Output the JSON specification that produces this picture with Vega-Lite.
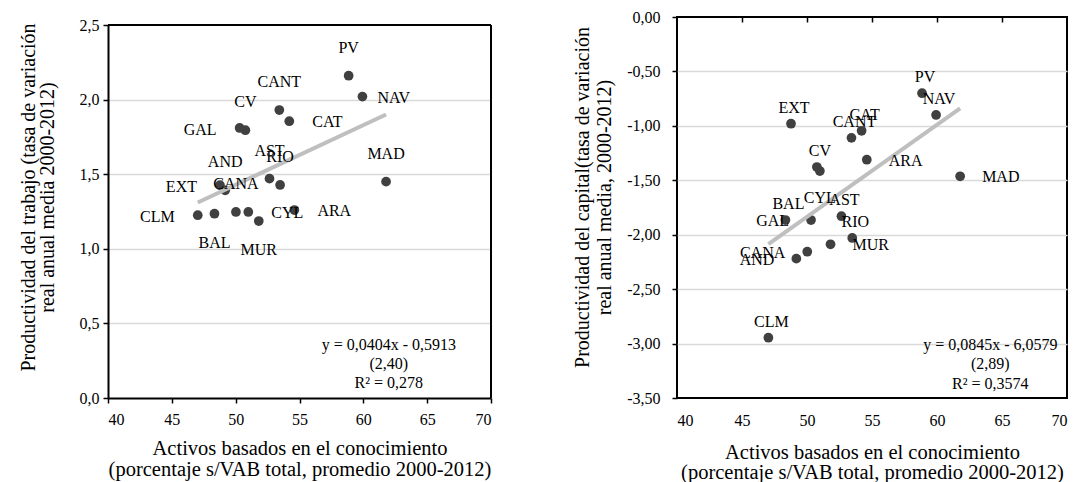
{
  "$schema": "https://vega.github.io/schema/vega-lite/v6.json",
  "background": "white",
  "padding": {"left": 18, "top": 8, "right": 5, "bottom": 5},
  "spacing": 79,
  "config": {
    "font": "Liberation Serif",
    "axis": {
      "labelFont": "Liberation Serif", "titleFont": "Liberation Serif",
      "labelFontSize": 16, "titleFontSize": 20, "titleFontWeight": "normal",
      "labelColor": "#000000", "titleColor": "#000000",
      "domainColor": "#000000", "domainWidth": 2,
      "tickColor": "#000000", "tickWidth": 1.5, "tickSize": 5,
      "gridColor": "#d9d9d9", "gridWidth": 1.3
    },
    "text": {"font": "Liberation Serif", "fontSize": 16, "fill": "#000000"}
  },
  "datasets": {
    "regiones": [
      {"region": "PV", "activos": 58.85, "trabajo": 2.16, "capital": -0.70},
      {"region": "NAV", "activos": 59.93, "trabajo": 2.02, "capital": -0.90},
      {"region": "CANT", "activos": 53.42, "trabajo": 1.93, "capital": -1.11},
      {"region": "CAT", "activos": 54.2, "trabajo": 1.855, "capital": -1.045},
      {"region": "GAL", "activos": 50.31, "trabajo": 1.81, "capital": -1.865},
      {"region": "CV", "activos": 50.76, "trabajo": 1.795, "capital": -1.378},
      {"region": "AST", "activos": 52.65, "trabajo": 1.47, "capital": -1.83},
      {"region": "RIO", "activos": 53.48, "trabajo": 1.428, "capital": -2.03},
      {"region": "MAD", "activos": 61.78, "trabajo": 1.45, "capital": -1.463},
      {"region": "EXT", "activos": 48.77, "trabajo": 1.426, "capital": -0.98},
      {"region": "AND", "activos": 49.18, "trabajo": 1.392, "capital": -2.22},
      {"region": "CLM", "activos": 47.03, "trabajo": 1.225, "capital": -2.946},
      {"region": "BAL", "activos": 48.34, "trabajo": 1.235, "capital": -1.865},
      {"region": "CANA", "activos": 50.02, "trabajo": 1.247, "capital": -2.156},
      {"region": "CYL", "activos": 50.99, "trabajo": 1.247, "capital": -1.415},
      {"region": "MUR", "activos": 51.81, "trabajo": 1.186, "capital": -2.088},
      {"region": "ARA", "activos": 54.6, "trabajo": 1.26, "capital": -1.311}
    ]
  },
  "hconcat": [
    {
      "width": 383,
      "height": 381,
      "view": {"stroke": null},
      "data": {"name": "regiones"},
      "layer": [
        {
          "mark": {"type": "circle", "size": 95, "color": "#404040", "opacity": 1},
          "encoding": {
            "x": {
              "field": "activos", "type": "quantitative",
              "scale": {"domain": [40, 70], "nice": false, "zero": false},
              "axis": {
                "title": ["Activos basados en el conocimiento", "(porcentaje s/VAB total, promedio 2000-2012)"],
                "values": [40, 45, 50, 55, 60, 65, 70],
                "grid": false, "domain": true, "ticks": true,
                "labelPadding": 8, "titlePadding": 11, "titleLineHeight": 21, "titleFontSize": 20.5
              }
            },
            "y": {
              "field": "trabajo", "type": "quantitative",
              "scale": {"domain": [0, 2.5], "range": [381, 8], "nice": false, "zero": false},
              "axis": {
                "title": ["Productividad del trabajo (tasa de variación", "real anual media 2000-2012)"],
                "values": [0, 0.5, 1, 1.5, 2, 2.5],
                "labelExpr": "replace(format(datum.value,'.1f'),'.',',')",
                "grid": true, "domain": true, "ticks": true,
                "gridColor": {"condition": {"test": "datum.value <= 0 || datum.value >= 2.5", "value": "transparent"}, "value": "#d9d9d9"},
                "labelPadding": 4, "titlePadding": 22, "titleY": 180, "titleLineHeight": 19
              }
            }
          }
        },
        {
          "transform": [{"regression": "trabajo", "on": "activos"}],
          "mark": {"type": "line", "color": "#bfbfbf", "strokeWidth": 4},
          "encoding": {
            "x": {"field": "activos", "type": "quantitative"},
            "y": {"field": "trabajo", "type": "quantitative"}
          }
        },
        {
          "data": {"values": [{"borde": "superior"}]},
          "mark": {"type": "rule", "color": "#000000", "strokeWidth": 2},
          "encoding": {"y": {"datum": 2.5}}
        },
        {
          "data": {"values": [{"borde": "derecho"}]},
          "mark": {"type": "rule", "color": "#000000", "strokeWidth": 2},
          "encoding": {"x": {"datum": 70}, "y": {"datum": 0}, "y2": {"datum": 2.5}}
        },
        {
          "transform": [{"filter": {"field": "region", "oneOf": ["PV", "CANT", "CV", "AST", "RIO", "MAD", "AND", "CANA"]}}],
          "mark": {"type": "text", "align": "center", "baseline": "middle", "dy": -28, "font": "Liberation Serif"},
          "encoding": {
            "x": {"field": "activos", "type": "quantitative"},
            "y": {"field": "trabajo", "type": "quantitative"},
            "text": {"field": "region"}
          }
        },
        {
          "transform": [{"filter": {"field": "region", "oneOf": ["BAL", "MUR"]}}],
          "mark": {"type": "text", "align": "center", "baseline": "middle", "dy": 29, "font": "Liberation Serif"},
          "encoding": {
            "x": {"field": "activos", "type": "quantitative"},
            "y": {"field": "trabajo", "type": "quantitative"},
            "text": {"field": "region"}
          }
        },
        {
          "transform": [{"filter": {"field": "region", "oneOf": ["GAL", "EXT", "CLM"]}}],
          "mark": {"type": "text", "align": "right", "baseline": "middle", "dx": -23, "dy": 2, "font": "Liberation Serif"},
          "encoding": {
            "x": {"field": "activos", "type": "quantitative"},
            "y": {"field": "trabajo", "type": "quantitative"},
            "text": {"field": "region"}
          }
        },
        {
          "transform": [{"filter": {"field": "region", "oneOf": ["CAT", "ARA", "CYL"]}}],
          "mark": {"type": "text", "align": "left", "baseline": "middle", "dx": 23, "dy": 1, "font": "Liberation Serif"},
          "encoding": {
            "x": {"field": "activos", "type": "quantitative"},
            "y": {"field": "trabajo", "type": "quantitative"},
            "text": {"field": "region"}
          }
        },
        {
          "transform": [{"filter": {"field": "region", "equal": "NAV"}}],
          "mark": {"type": "text", "align": "left", "baseline": "middle", "dx": 15, "dy": 1, "font": "Liberation Serif"},
          "encoding": {
            "x": {"field": "activos", "type": "quantitative"},
            "y": {"field": "trabajo", "type": "quantitative"},
            "text": {"field": "region"}
          }
        },
        {
          "data": {"values": [{"nota": "ecuacion"}]},
          "mark": {"type": "text", "align": "center", "baseline": "middle", "fontSize": 16, "lineHeight": 19.2, "font": "Liberation Serif",
                   "text": ["y = 0,0404x - 0,5913", "(2,40)", "R² = 0,278"]},
          "encoding": {"x": {"datum": 62.0}, "y": {"datum": 0.355}}
        }
      ]
    },
    {
      "width": 390,
      "height": 381,
      "view": {"stroke": "#000000", "strokeWidth": 2},
      "data": {"name": "regiones"},
      "resolve": {"axis": {"x": "independent"}},
      "layer": [
        {
          "layer": [
            {
              "mark": {"type": "circle", "size": 95, "color": "#404040", "opacity": 1},
              "encoding": {
                "x": {
                  "field": "activos", "type": "quantitative",
                  "scale": {"domain": [40, 70], "nice": false, "zero": false},
                  "axis": {
                    "title": ["Activos basados en el conocimiento", "(porcentaje s/VAB total, promedio 2000-2012)"],
                    "values": [40, 45, 50, 55, 60, 65, 70],
                    "grid": false, "ticks": false, "domain": false,
                    "labelPadding": 14, "titlePadding": 14, "titleLineHeight": 20.5, "titleFontSize": 20.5
                  }
                },
                "y": {
                  "field": "capital", "type": "quantitative",
                  "scale": {"domain": [-3.5, 0], "nice": false, "zero": false},
                  "axis": {
                    "title": ["Productividad del capital(tasa de variación", "real anual media, 2000-2012)"],
                    "values": [-3.5, -3, -2.5, -2, -1.5, -1, -0.5, 0],
                    "labelExpr": "replace(replace(format(datum.value,'.2f'),'.',','),'−','-')",
                    "grid": true, "domain": false, "ticks": true,
                    "gridColor": {"condition": {"test": "datum.value <= -3.5 || datum.value >= 0", "value": "transparent"}, "value": "#d9d9d9"},
                    "labelPadding": 12, "titlePadding": 12, "titleY": 180, "titleLineHeight": 22
                  }
                }
              }
            },
            {
              "transform": [{"regression": "capital", "on": "activos"}],
              "mark": {"type": "line", "color": "#bfbfbf", "strokeWidth": 4},
              "encoding": {
                "x": {"field": "activos", "type": "quantitative"},
                "y": {"field": "capital", "type": "quantitative"}
              }
            },
            {
              "transform": [{"filter": {"field": "region", "oneOf": ["PV", "NAV", "EXT", "CAT", "CANT", "CV", "BAL", "AST", "RIO", "CLM"]}}],
              "mark": {"type": "text", "align": "center", "baseline": "middle", "dx": 3, "dy": -16, "font": "Liberation Serif"},
              "encoding": {
                "x": {"field": "activos", "type": "quantitative"},
                "y": {"field": "capital", "type": "quantitative"},
                "text": {"field": "region"}
              }
            },
            {
              "transform": [{"filter": {"field": "region", "oneOf": ["ARA", "MAD", "MUR"]}}],
              "mark": {"type": "text", "align": "left", "baseline": "middle", "dx": 22, "dy": 1, "font": "Liberation Serif"},
              "encoding": {
                "x": {"field": "activos", "type": "quantitative"},
                "y": {"field": "capital", "type": "quantitative"},
                "text": {"field": "region"}
              }
            },
            {
              "transform": [{"filter": {"field": "region", "oneOf": ["GAL", "CANA", "AND"]}}],
              "mark": {"type": "text", "align": "right", "baseline": "middle", "dx": -22, "dy": 1, "font": "Liberation Serif"},
              "encoding": {
                "x": {"field": "activos", "type": "quantitative"},
                "y": {"field": "capital", "type": "quantitative"},
                "text": {"field": "region"}
              }
            },
            {
              "transform": [{"filter": {"field": "region", "equal": "CYL"}}],
              "mark": {"type": "text", "align": "center", "baseline": "middle", "dy": 27, "font": "Liberation Serif"},
              "encoding": {
                "x": {"field": "activos", "type": "quantitative"},
                "y": {"field": "capital", "type": "quantitative"},
                "text": {"field": "region"}
              }
            },
            {
              "data": {"values": [{"nota": "ecuacion"}]},
              "mark": {"type": "text", "align": "center", "baseline": "middle", "fontSize": 16, "lineHeight": 19.5, "font": "Liberation Serif",
                       "text": ["y = 0,0845x - 6,0579", "(2,89)", "R² = 0,3574"]},
              "encoding": {"x": {"datum": 64.1}, "y": {"datum": -3.013}}
            }
          ]
        },
        {
          "data": {"values": [{"borde": "superior"}]},
          "mark": {"type": "rule", "color": "#000000", "strokeWidth": 2},
          "encoding": {
            "x": {
              "datum": 40,
              "axis": {"orient": "top", "labels": false, "domain": false, "ticks": true, "tickSize": -5,
                       "values": [45, 50, 55, 60, 65], "title": null, "grid": false}
            },
            "x2": {"datum": 70},
            "y": {"datum": 0}
          }
        }
      ]
    }
  ]
}
